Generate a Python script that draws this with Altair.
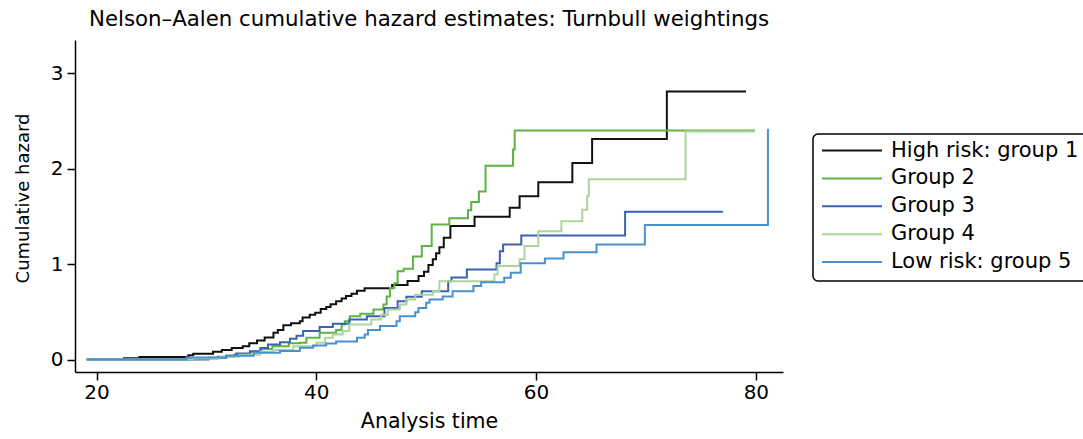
import altair as alt
import pandas as pd

groups = ["High risk: group 1", "Group 2", "Group 3", "Group 4", "Low risk: group 5"]
colors = ["#111111", "#5db443", "#3a62b3", "#acd59c", "#4990d1"]

g1_t = [22.4, 23.9, 28.35, 28.8, 30.6, 31.4, 32.3, 33.3, 33.9, 34.6, 35.3, 36.1, 36.5, 37.0, 37.7,
        38.5, 38.75, 39.4, 39.9, 40.4, 40.9, 41.3, 41.8, 42.3, 42.7, 43.2, 43.7, 44.4, 46.9, 48.3,
        49.3, 49.8, 50.2, 50.6, 50.9, 51.2, 51.6, 52.2, 54.4, 57.6, 58.5, 60.2, 63.3, 65.1, 71.9, 79.1]
g1_h = [0.012, 0.025, 0.045, 0.06, 0.08, 0.10, 0.12, 0.14, 0.17, 0.20, 0.23, 0.28, 0.31, 0.36, 0.38,
        0.40, 0.44, 0.47, 0.49, 0.53, 0.55, 0.58, 0.61, 0.64, 0.665, 0.69, 0.72, 0.746, 0.78, 0.823,
        0.875, 0.92, 0.99, 1.05, 1.113, 1.176, 1.277, 1.40, 1.497, 1.59, 1.71, 1.857, 2.06, 2.31, 2.81, 2.81]

g2_t = [19.1, 28.8, 31.0, 32.5, 34.0, 35.0, 36.0, 37.5, 38.5, 39.1, 40.3, 41.8, 42.3, 42.6, 43.05,
        44.0, 45.2, 46.1, 46.4, 46.7, 47.1, 47.4, 47.95, 48.8, 49.6, 50.5, 52.1, 53.8, 54.1, 54.8,
        55.4, 57.9, 58.05, 79.9]
g2_h = [0.0, 0.01, 0.03, 0.05, 0.08, 0.11, 0.14, 0.17, 0.175, 0.227, 0.28, 0.31, 0.367, 0.40, 0.454,
        0.48, 0.524, 0.577, 0.66, 0.75, 0.80, 0.925, 0.95, 1.08, 1.19, 1.415, 1.48, 1.565, 1.65, 1.76,
        2.03, 2.20, 2.40, 2.40]

g3_t = [19.1, 30.2, 31.8, 32.7, 33.95, 34.9, 35.6, 36.7, 37.6, 38.2, 38.8, 40.3, 41.5, 43.0, 44.6,
        46.2, 47.4, 48.2, 49.6, 52.0, 52.3, 53.7, 56.4, 56.7, 57.0, 58.65, 68.1, 77.0]
g3_h = [0.0, 0.018, 0.04, 0.063, 0.087, 0.12, 0.157, 0.18, 0.217, 0.25, 0.30, 0.34, 0.374, 0.42, 0.454,
        0.54, 0.61, 0.657, 0.716, 0.82, 0.86, 0.943, 1.01, 1.135, 1.205, 1.30, 1.55, 1.55]

g4_t = [19.1, 28.8, 31.2, 33.0, 34.9, 36.1, 37.9, 40.0, 40.8, 41.5, 42.4, 43.0, 45.0, 45.9, 46.5,
        47.6, 48.2, 49.0, 50.6, 51.2, 56.2, 56.5, 58.5, 58.95, 60.2, 62.3, 64.2, 64.65, 64.8, 73.6, 79.9]
g4_h = [0.0, 0.01, 0.03, 0.05, 0.08, 0.10, 0.14, 0.175, 0.227, 0.262, 0.30, 0.367, 0.42, 0.47, 0.524,
        0.577, 0.63, 0.68, 0.716, 0.82, 0.89, 0.98, 1.05, 1.19, 1.345, 1.45, 1.57, 1.71, 1.89, 2.39, 2.39]

g5_t = [19.1, 28.2, 31.8, 34.3, 36.7, 38.5, 39.7, 40.9, 41.8, 43.7, 44.4, 44.7, 45.8, 47.3, 47.6,
        49.0, 49.3, 50.0, 50.3, 51.5, 52.4, 54.3, 55.0, 57.1, 57.7, 58.6, 60.8, 62.5, 65.5, 69.9, 81.1]
g5_h = [0.0, 0.02, 0.04, 0.07, 0.09, 0.123, 0.147, 0.168, 0.19, 0.227, 0.262, 0.31, 0.35, 0.40, 0.454,
        0.496, 0.54, 0.594, 0.63, 0.66, 0.716, 0.77, 0.81, 0.856, 0.91, 1.01, 1.06, 1.125, 1.205, 1.41, 2.42]

x_ticks = [20, 40, 60, 80]
y_ticks = [0, 1, 2, 3]

series_t = [g1_t, g2_t, g3_t, g4_t, g5_t]
series_h = [g1_h, g2_h, g3_h, g4_h, g5_h]
rows = []
for name, ts, hs in zip(groups, series_t, series_h):
    for t, h in zip(ts, hs):
        rows.append({"group": name, "time": t, "hazard": h})
df = pd.DataFrame(rows)

FONT = "DejaVu Sans"

chart = alt.Chart(df).mark_line(interpolate="step-after", strokeWidth=2).encode(
    x=alt.X("time:Q",
            scale=alt.Scale(domain=[18.04, 82.47], nice=False, zero=False),
            axis=alt.Axis(values=x_ticks, title="Analysis time", grid=False, format="d",
                          labelPadding=2, titlePadding=9, labelFontSize=20, titleFontSize=20.5)),
    y=alt.Y("hazard:Q",
            scale=alt.Scale(domain=[-0.131, 3.349], nice=False, zero=False),
            axis=alt.Axis(values=y_ticks, title="Cumulative hazard", grid=False, format="d",
                          labelPadding=4, titlePadding=18, labelFontSize=20, titleFontSize=18,
                          titleY=158)),
    color=alt.Color("group:N",
                    scale=alt.Scale(domain=groups, range=colors),
                    legend=alt.Legend(orient="none", legendX=738, legendY=94, title=None,
                                      symbolType="stroke", symbolSize=3600, symbolStrokeWidth=2,
                                      labelFontSize=21, labelFont=FONT, labelColor="black",
                                      strokeColor="black", padding=8, cornerRadius=5,
                                      clipHeight=17, rowPadding=5.9, labelOffset=8, labelLimit=500)),
).properties(
    width=708,
    height=332,
    autosize=alt.AutoSizeParams(type="none"),
    padding={"left": 75, "top": 40, "right": 300, "bottom": 67},
    title=alt.TitleParams("Nelson\u2013Aalen cumulative hazard estimates: Turnbull weightings",
                          fontSize=21.3, font=FONT, fontWeight="normal", color="black", offset=10),
).configure_axis(
    domainColor="black", domainWidth=1.5, tickColor="black", tickWidth=1.5, tickSize=8,
    labelFont=FONT, labelColor="black",
    titleFont=FONT, titleFontWeight="normal", titleColor="black",
).configure_legend(
    strokeWidth=1.5
).configure_view(stroke=None)

chart.save("out.html", embed_options={"renderer": "svg", "actions": False})
